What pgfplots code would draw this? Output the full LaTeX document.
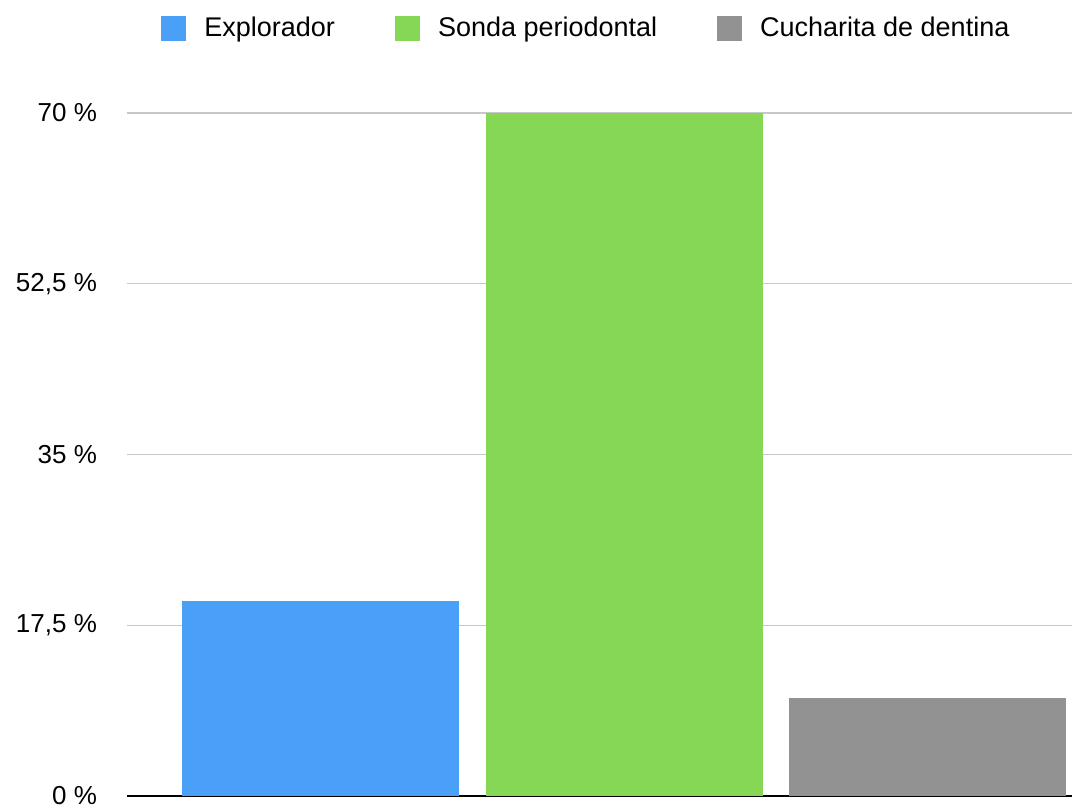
\documentclass[border=0pt]{standalone}
\usepackage{pgfplots}
\pgfplotsset{compat=1.18}
\usepackage{fontspec}
\setmainfont{Liberation Sans}
\definecolor{cblue}{RGB}{74,160,246}
\definecolor{cgreen}{RGB}{133,215,85}
\definecolor{cgray}{RGB}{146,146,146}
\definecolor{cgrid}{RGB}{200,200,200}
\begin{document}
\fontsize{13pt}{15pt}\selectfont
\begin{tikzpicture}
\begin{axis}[
  scale only axis,
  width=472.5pt, height=341.5pt,
  xmin=-0.637, xmax=2.475,
  ymin=0, ymax=70,
  enlargelimits=false,
  ybar, bar width=0.912,
  axis lines=left,
  axis line style={-},
  y axis line style={draw=none},
  x axis line style={black, line width=1.4pt},
  xtick=\empty,
  ytick={0,17.5,35,52.5,70},
  yticklabels={0 \%, {17,5 \%}, 35 \%, {52,5 \%}, 70 \%},
  major tick length=0pt,
  yticklabel style={font=\fontsize{13pt}{15pt}\selectfont, anchor=east, xshift=-10.5pt},
  ymajorgrids,
  grid style={cgrid, line width=0.6pt},
  legend columns=3,
  legend style={draw=none, at={(0.4872,1.123)}, anchor=center,
    font=\fontsize{13.5pt}{15pt}\selectfont,
    /tikz/every odd column/.append style={column sep=7pt},
    /tikz/every even column/.append style={column sep=28pt},
    inner sep=0pt},
  legend image code/.code={\fill[#1] (0pt,-6.25pt) rectangle (12.5pt,6.25pt);},
]
\addplot[fill=cblue, draw=none, bar shift=0pt] coordinates {(0,20)};
\addplot[fill=cgreen, draw=none, bar shift=0pt] coordinates {(1,70)};
\addplot[fill=cgray, draw=none, bar shift=0pt] coordinates {(2,10)};
\legend{Explorador, Sonda periodontal, Cucharita de dentina}
\end{axis}
\pgfresetboundingbox
\path (-63.5pt,-6.5pt) rectangle (472.5pt,398pt);
\end{tikzpicture}
\end{document}
